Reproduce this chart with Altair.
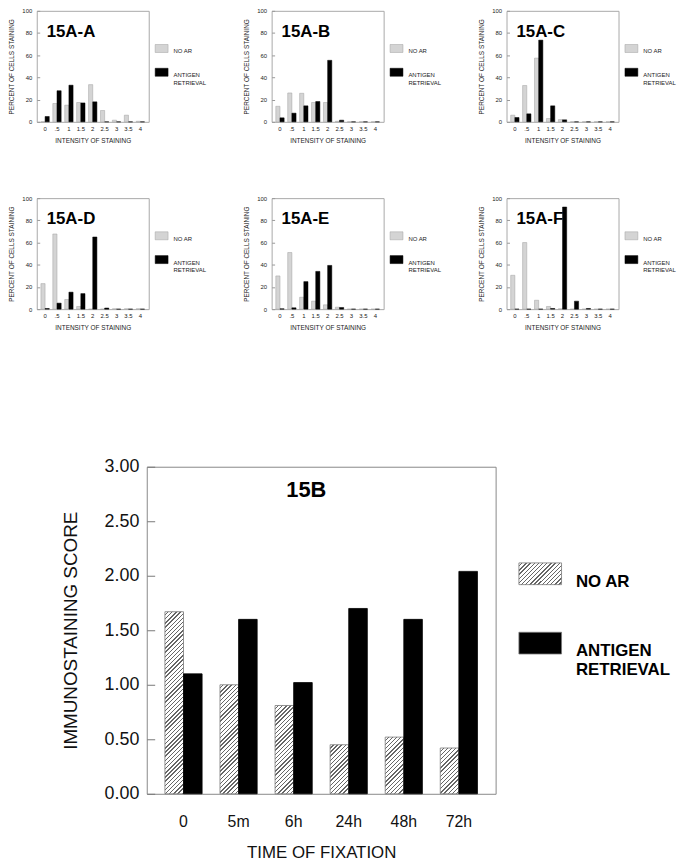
import json
import altair as alt

# ---------------- data ----------------
intensity = ["0", ".5", "1", "1.5", "2", "2.5", "3", "3.5", "4"]
series = ["NO AR", "ANTIGEN RETRIEVAL"]

panel_names = ["15A-A", "15A-B", "15A-C", "15A-D", "15A-E", "15A-F"]
noar_A = [0, 16.5, 15, 17.4, 33.5, 10.2, 1.5, 6, 0.5]
ar_A = [4.8, 28, 33, 17, 18, 0, 0, 0, 0]
noar_B = [14, 26, 25.7, 17.4, 17.4, 0.5, 0, 0, 0]
ar_B = [3.6, 7.8, 14.4, 18.3, 55.4, 1.5, 0, 0, 0]
noar_C = [6, 32.7, 57.4, 3, 2, 0, 0, 0, 0]
ar_C = [3.9, 7.2, 73.6, 14.4, 1.8, 0, 0, 0, 0]
noar_D = [23, 67.7, 8.7, 2.4, 0, 0, 0.3, 0.3, 0.3]
ar_D = [0.6, 5.4, 15.3, 14, 65, 1, 0, 0, 0]
noar_E = [29.9, 51, 10.7, 7.2, 3.9, 1.8, 0, 0, 0]
ar_E = [0.3, 1.2, 24.8, 34, 39.4, 1.5, 0, 0, 0]
noar_F = [30.5, 60, 8, 2.4, 0.3, 0, 0, 0, 0]
ar_F = [0, 0, 0, 0.6, 92, 7.2, 0.6, 0, 0]

times = ["0", "5m", "6h", "24h", "48h", "72h"]
score_noar = [1.67, 1.00, 0.81, 0.45, 0.52, 0.42]
score_ar = [1.10, 1.60, 1.02, 1.70, 1.60, 2.04]

FONT = "Liberation Sans"

# ---------------- hatch fill (styling) ----------------
def hatch(w, h, period=4.2, line=1.4, color="#666666", bg="#ffffff"):
    total = w + h
    c = total / (w * w + h * h)
    pt = period / total
    lt = line / total
    stops = []
    o = 0.0
    while o < 1:
        a = min(o + pt - lt, 1.0)
        b = min(o + pt, 1.0)
        stops += [
            {"offset": round(o, 5), "color": bg},
            {"offset": round(a, 5), "color": bg},
            {"offset": round(a, 5), "color": color},
            {"offset": round(b, 5), "color": color},
        ]
        o += pt
    return {"gradient": "linear", "x1": 0, "y1": 0,
            "x2": round(c * w, 6), "y2": round(c * h, 6), "stops": stops}


LABEL_EXPR = "datum.label == 'ANTIGEN RETRIEVAL' ? ['ANTIGEN', 'RETRIEVAL'] : datum.label"

# ---------------- small panels ----------------
SW, SH = 113, 112


def small_panel(name, noar, ar):
    rows = []
    for k, v in zip(intensity, noar):
        rows.append({"intensity": k, "series": series[0], "pct": v})
    for k, v in zip(intensity, ar):
        rows.append({"intensity": k, "series": series[1], "pct": v})
    return alt.Chart(alt.Data(values=rows)).mark_bar(strokeWidth=0.5).encode(
        x=alt.X("intensity:N", sort=intensity,
                scale=alt.Scale(domain=intensity, paddingInner=0.3, paddingOuter=0.35),
                axis=alt.Axis(title="INTENSITY OF STAINING", labelAngle=0, ticks=False,
                              tickSize=0, domain=False, labelFontSize=6, labelPadding=3.5,
                              titleFontSize=6.5, titleFontWeight="normal", titlePadding=6,
                              labelColor="#222", titleColor="#222")),
        xOffset=alt.XOffset("series:N", sort=series, scale=alt.Scale(domain=series)),
        y=alt.Y("pct:Q", scale=alt.Scale(domain=[0, 100]),
                axis=alt.Axis(values=[0, 20, 40, 60, 80, 100], title="PERCENT OF CELLS STAINING",
                              grid=False, domain=False, offset=-3, tickSize=3, tickColor="#999",
                              labelFontSize=6, labelPadding=5, titleFontSize=6.5,
                              titleFontWeight="normal", titlePadding=7,
                              labelColor="#222", titleColor="#222")),
        fill=alt.Fill("series:N", scale=alt.Scale(domain=series, range=["#d4d4d4", "#000000"]),
                      legend=alt.Legend(orient="none", legendX=SW + 6, legendY=31, title=None,
                                        symbolType="M-1,-0.62H1V0.62H-1Z", symbolSize=169,
                                        symbolStrokeColor="#999999", symbolStrokeWidth=0.5,
                                        labelFontSize=6, labelOffset=5, labelBaseline="top",
                                        labelExpr=LABEL_EXPR, rowPadding=11, padding=0,
                                        labelLimit=300, labelColor="#222")),
        stroke=alt.Stroke("series:N", scale=alt.Scale(domain=series, range=["#a0a0a0", "#000000"]),
                          legend=None),
    ).properties(
        width=SW, height=SH,
        title=alt.TitleParams(text=name, anchor="start", frame="group", dx=10, offset=-46,
                              baseline="alphabetic", fontSize=17, fontWeight="bold", color="#000"),
        view=alt.ViewBackground(stroke="#a8a8a8", strokeWidth=1),
    )


panels = [small_panel(n, a, b) for n, a, b in zip(
    panel_names,
    [noar_A, noar_B, noar_C, noar_D, noar_E, noar_F],
    [ar_A, ar_B, ar_C, ar_D, ar_E, ar_F])]


def indep(c):
    return c.resolve_scale(fill="independent", stroke="independent", x="independent",
                           y="independent", xOffset="independent"
                           ).resolve_legend(fill="independent")


row1 = indep(alt.hconcat(panels[0], panels[1], panels[2], spacing=36))
row2 = indep(alt.hconcat(panels[3], panels[4], panels[5], spacing=36))
top = indep(alt.vconcat(row1, row2, spacing=50))

# ---------------- main chart ----------------
MW, MH = 352, 330
P_IN, P_OUT = 0.325, 0.33
step = MW / (len(times) - P_IN + 2 * P_OUT)
bar_w = step * (1 - P_IN) / 2
px_per_unit = MH / 3.0

main_rows = []
for t, v in zip(times, score_noar):
    main_rows.append({"time": t, "series": series[0], "score": v,
                      "fillv": hatch(bar_w, v * px_per_unit), "strokev": "#777777"})
for t, v in zip(times, score_ar):
    main_rows.append({"time": t, "series": series[1], "score": v,
                      "fillv": "#000000", "strokev": "#000000"})

legend_hatch = json.dumps(hatch(43, 22))

main = alt.Chart(alt.Data(values=main_rows)).mark_bar(strokeWidth=0.8).encode(
    x=alt.X("time:N", sort=times,
            scale=alt.Scale(domain=times, paddingInner=P_IN, paddingOuter=P_OUT),
            axis=alt.Axis(title="TIME OF FIXATION", labelAngle=0, ticks=False, tickSize=0,
                          domain=False, labelFontSize=16, labelPadding=20, titleFontSize=17,
                          titleFontWeight="normal", titlePadding=15,
                          labelColor="#111", titleColor="#111")),
    xOffset=alt.XOffset("series:N", sort=series, scale=alt.Scale(domain=series)),
    y=alt.Y("score:Q", scale=alt.Scale(domain=[0, 3]),
            axis=alt.Axis(values=[0, 0.5, 1, 1.5, 2, 2.5, 3], format=".2f",
                          title="IMMUNOSTAINING SCORE", grid=False, domain=False,
                          offset=-8, tickSize=8, tickColor="#777777",
                          labelFontSize=18, labelPadding=8, titleFontSize=19,
                          titleFontWeight="normal", titlePadding=24,
                          labelColor="#111", titleColor="#111")),
    fill=alt.Fill("fillv:N", scale=None),
    stroke=alt.Stroke("strokev:N", scale=None),
).properties(
    width=MW, height=MH,
    title=alt.TitleParams(text="15B", anchor="middle", frame="group", dx=-15, offset=-62,
                          baseline="alphabetic", fontSize=22, fontWeight="bold", color="#000"),
    view=alt.ViewBackground(stroke="#888888", strokeWidth=1),
)

legend_chart = alt.Chart(alt.Data(values=main_rows)).transform_filter(
    "datum.score < 0").mark_point(filled=True, opacity=1).encode(
    fill=alt.Fill("series:N",
                  scale=alt.Scale(domain=series, range=[alt.ExprRef(expr=legend_hatch), "#000000"]),
                  legend=alt.Legend(orient="none", legendX=21, legendY=86, title=None,
                                    symbolType="M-1,-0.51H1V0.51H-1Z", symbolSize=1849,
                                    symbolStrokeColor="#777777", symbolStrokeWidth=0.8,
                                    labelFontSize=17, labelFontWeight="bold", labelOffset=14,
                                    labelBaseline="top", labelExpr=LABEL_EXPR, rowPadding=32,
                                    padding=0, labelLimit=400, labelColor="#000"))
).properties(width=1, height=MH, view=alt.ViewBackground(stroke="transparent"))

spacer = alt.Chart(alt.Data(values=[{"a": 0}])).mark_point(opacity=0).encode(
    x=alt.value(0), y=alt.value(0)
).properties(width=23, height=10, view=alt.ViewBackground(stroke="transparent"))

bottom = indep(alt.hconcat(spacer, main, legend_chart, spacing=0))

chart = indep(alt.vconcat(top, bottom, spacing=126)).properties(
    padding={"left": 0, "top": -5, "right": 0, "bottom": 0},
    background="white",
).configure(font=FONT)

chart.save("out.html", embed_options={"renderer": "svg", "actions": False})
